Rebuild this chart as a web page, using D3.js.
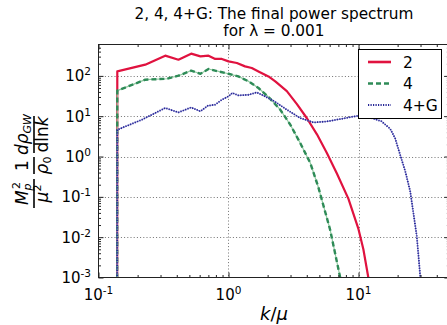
<!DOCTYPE html>
<html>
<head>
<meta charset="utf-8">
<script src="https://cdn.jsdelivr.net/npm/d3@7"></script>
<style>
  html, body { margin: 0; padding: 0; background: #fff; }
  svg { display: block; }
  text { font-family: "DejaVu Sans", sans-serif; }
</style>
</head>
<body>
<svg id="chart" width="447" height="325"></svg>
<script>
// Final gravitational-wave power spectrum for the three runs
const k2  = [0.139, 0.1395, 0.229, 0.326, 0.412, 0.516, 0.608, 0.702, 0.790, 0.889, 1.0, 1.16, 1.34, 1.51, 1.70, 2.03, 2.29, 2.81, 3.36, 4.01, 4.79, 5.71, 6.82, 8.37, 10.0, 10.9, 11.9, 12.5];
const v2  = [1e-6, 129, 190, 317, 252, 356, 305, 317, 263, 263, 229, 209, 172, 157, 129, 97, 73, 41.7, 20, 8.9, 3.55, 1.22, 0.38, 0.089, 0.0158, 0.005, 0.001, 0.0004];

const k4  = [0.139, 0.1395, 0.229, 0.336, 0.412, 0.516, 0.608, 0.702, 0.838, 1.0, 1.19, 1.43, 1.70, 2.03, 2.50, 2.99, 3.56, 4.26, 4.92, 6.05, 7.23, 7.6];
const v4  = [1e-6, 43, 80.5, 85, 101, 135, 113, 148, 129, 113, 97, 73, 50, 30, 14.5, 6.15, 2.16, 0.69, 0.17, 0.0153, 0.001, 0.0005];

const k4g = [0.139, 0.1395, 0.216, 0.326, 0.412, 0.516, 0.608, 0.695, 0.79, 0.889, 1.0, 1.07, 1.19, 1.43, 1.65, 1.91, 2.25, 2.81, 3.56, 4.51, 5.71, 7.23, 10.0, 13.0, 15.0, 17.5, 19.1, 20.9, 22.9, 25.0, 28.1, 29.9, 30.5];
const v4g = [1e-6, 4.6, 8.2, 16, 12.4, 16.5, 13.2, 18.2, 19.3, 25.7, 31, 37.7, 32.8, 34, 39, 31, 23.5, 14.5, 9.0, 7.0, 7.4, 8.5, 10.3, 8.7, 7.5, 4.9, 2.88, 1.11, 0.43, 0.136, 0.0104, 0.001, 0.0005];

const seriesNames = ["2", "4", "4+G"];
const xMajor = [0.1, 1, 10];
const yMajor = [1e-3, 1e-2, 1e-1, 1, 10, 100];
const xExp = ["-1", "0", "1"];
const yExp = ["-3", "-2", "-1", "0", "1", "2"];
const titleLines = ["2, 4, 4+G: The final power spectrum", "for \u03bb = 0.001"];

const svg = d3.select("#chart");
const L = 98.5, T = 44.5, B = 277.5;
const x = d3.scaleLog().domain([0.1, 50]).range([L, L + 130 * Math.log10(500)]);
const y = d3.scaleLog().domain([1e-3, 600]).range([B, T]);
const R = x.range()[1];

// minor tick positions per decade
const minorVals = (lo, hi) => {
  const out = [];
  for (let e = lo; e <= hi; e++) for (let m = 2; m <= 9; m++) out.push(m * Math.pow(10, e));
  return out;
};
const xMinor = minorVals(-1, 1).filter(v => v < 50);
const yMinor = minorVals(-3, 2).filter(v => v < 600);

svg.append("defs").append("clipPath").attr("id", "plotclip")
  .append("rect").attr("x", L).attr("y", T).attr("width", R - L).attr("height", B - T);

// dotted grid at decades
const grid = svg.append("g").attr("stroke", "#444").attr("stroke-width", 1).attr("stroke-dasharray", "1,2.2").attr("opacity", 0.75);
grid.selectAll("line.gx").data(xMajor.slice(1)).join("line")
  .attr("x1", d => Math.round(x(d)) + 0.5).attr("x2", d => Math.round(x(d)) + 0.5)
  .attr("y1", T).attr("y2", B);
grid.selectAll("line.gy").data(yMajor.slice(1)).join("line")
  .attr("y1", d => Math.round(y(d)) + 0.5).attr("y2", d => Math.round(y(d)) + 0.5)
  .attr("x1", L).attr("x2", R);

// curves
const line = d3.line().x(d => x(d[0])).y(d => y(d[1]));
const plot = svg.append("g").attr("clip-path", "url(#plotclip)").attr("fill", "none")
  .attr("stroke-linejoin", "round");
const d2 = k2.map((k, i) => [k, v2[i]]);
const d4 = k4.map((k, i) => [k, v4[i]]);
const d4g = k4g.map((k, i) => [k, v4g[i]]);

plot.append("path").attr("d", line(d2)).attr("stroke", "#e0123f").attr("stroke-width", 2.2);
plot.append("path").attr("d", line(d4)).attr("stroke", "#8fc9a0").attr("stroke-width", 1.2);
plot.append("path").attr("d", line(d4)).attr("stroke", "#2e8b57").attr("stroke-width", 2.4).attr("stroke-dasharray", "5,3");
plot.append("path").attr("d", line(d4g)).attr("stroke", "#8a8ad0").attr("stroke-width", 1);
plot.append("path").attr("d", line(d4g)).attr("stroke", "#262696").attr("stroke-width", 1.8).attr("stroke-dasharray", "1.2,1.3");

// ticks (inward, on all sides) via d3 axes
function tickAxis(axisFn, scale, vals, size, tr) {
  svg.append("g").attr("transform", tr)
    .call(axisFn(scale).tickValues(vals).tickSize(size).tickFormat(""))
    .call(g => g.select(".domain").remove())
    .selectAll("line").attr("stroke", "#222");
}
tickAxis(d3.axisBottom, x, xMajor, -5, `translate(0,${B})`);
tickAxis(d3.axisBottom, x, xMinor, -2.5, `translate(0,${B})`);
tickAxis(d3.axisTop, x, xMajor, -5, `translate(0,${T})`);
tickAxis(d3.axisTop, x, xMinor, -2.5, `translate(0,${T})`);
tickAxis(d3.axisLeft, y, yMajor, -5, `translate(${L},0)`);
tickAxis(d3.axisLeft, y, yMinor, -2.5, `translate(${L},0)`);
tickAxis(d3.axisRight, y, yMajor, -5, `translate(${R},0)`);
tickAxis(d3.axisRight, y, yMinor, -2.5, `translate(${R},0)`);

// frame
svg.append("rect").attr("x", L).attr("y", T).attr("width", R - L).attr("height", B - T)
  .attr("fill", "none").attr("stroke", "#222").attr("stroke-width", 1);

// tick labels with superscript exponents
const xl = svg.append("g").attr("font-size", 15).attr("fill", "#000");
xMajor.forEach((v, i) => {
  const t = xl.append("text").attr("x", x(v)).attr("y", 300).attr("text-anchor", "middle");
  t.append("tspan").text("10");
  t.append("tspan").attr("font-size", 10.5).attr("dy", -6).text(xExp[i]);
});
const yl = svg.append("g").attr("font-size", 15).attr("fill", "#000");
yMajor.forEach((v, i) => {
  const t = yl.append("text").attr("x", 91).attr("y", y(v) + 5.5).attr("text-anchor", "end");
  t.append("tspan").text("10");
  t.append("tspan").attr("font-size", 10.5).attr("dy", -6).text(yExp[i]);
});

// title
svg.append("g").attr("font-size", 15.3).attr("text-anchor", "middle")
  .selectAll("text").data(titleLines).join("text")
  .attr("x", (L + R) / 2).attr("y", (d, i) => 18.5 + i * 17.5).text(d => d);

// x label
const xlab = svg.append("text").attr("x", (L + R) / 2).attr("y", 320).attr("text-anchor", "middle")
  .attr("font-family", "Liberation Serif, serif").attr("font-size", 18);
xlab.append("tspan").attr("font-style", "italic").text("k");
xlab.append("tspan").text("/");
xlab.append("tspan").attr("font-style", "italic").text("\u03bc");

// y label: three stacked fractions, rotated
const yg = svg.append("g").attr("transform", "translate(34,162) rotate(-90)")
  .attr("font-family", "Liberation Serif, serif").attr("font-size", 17).attr("text-anchor", "middle");
function frac(x0, x1, num, den) {
  yg.append("line").attr("x1", x0).attr("x2", x1).attr("y1", 0).attr("y2", 0).attr("stroke", "#000").attr("stroke-width", 1.6);
  const c = (x0 + x1) / 2;
  const n = yg.append("text").attr("x", c).attr("y", -6); num(n);
  const d = yg.append("text").attr("x", c).attr("y", 14); den(d);
}
frac(-46, -17,
  t => { t.append("tspan").attr("font-style", "italic").text("M");
         t.append("tspan").attr("font-style", "italic").attr("font-size", 11).attr("dy", 3).text("p");
         t.append("tspan").attr("font-size", 11).attr("dx", -5.5).attr("dy", -11).text("2"); },
  t => { t.append("tspan").attr("font-style", "italic").text("\u03bc");
         t.append("tspan").attr("font-size", 11).attr("dy", -7).text("2"); });
frac(-12, 5,
  t => { t.text("1"); },
  t => { t.append("tspan").attr("font-style", "italic").text("\u03c1");
         t.append("tspan").attr("font-size", 11).attr("dy", 3).text("0"); });
frac(9, 46,
  t => { t.append("tspan").attr("font-style", "italic").text("d\u03c1");
         t.append("tspan").attr("font-style", "italic").attr("font-size", 11).attr("dy", 3).text("GW"); },
  t => { t.append("tspan").text("dln");
         t.append("tspan").attr("font-style", "italic").text("k"); });

// legend
const lg = svg.append("g");
lg.append("rect").attr("x", 358.5).attr("y", 49.5).attr("width", 83).attr("height", 69)
  .attr("fill", "#fff").attr("stroke", "#000").attr("stroke-width", 1);
const legendStyles = [
  { stroke: "#e0123f", w: 2.6, dash: null },
  { stroke: "#2e8b57", w: 2.6, dash: "5,3" },
  { stroke: "#262696", w: 1.8, dash: "1.2,1.3" }
];
seriesNames.forEach((name, i) => {
  const yy = 62 + i * 21.5;
  const s = legendStyles[i];
  lg.append("line").attr("x1", 368).attr("x2", 391).attr("y1", yy).attr("y2", yy)
    .attr("stroke", s.stroke).attr("stroke-width", s.w).attr("stroke-dasharray", s.dash);
  lg.append("text").attr("x", 403).attr("y", yy + 5.5).attr("font-size", 15.5).text(name);
});
</script>
</body>
</html>
